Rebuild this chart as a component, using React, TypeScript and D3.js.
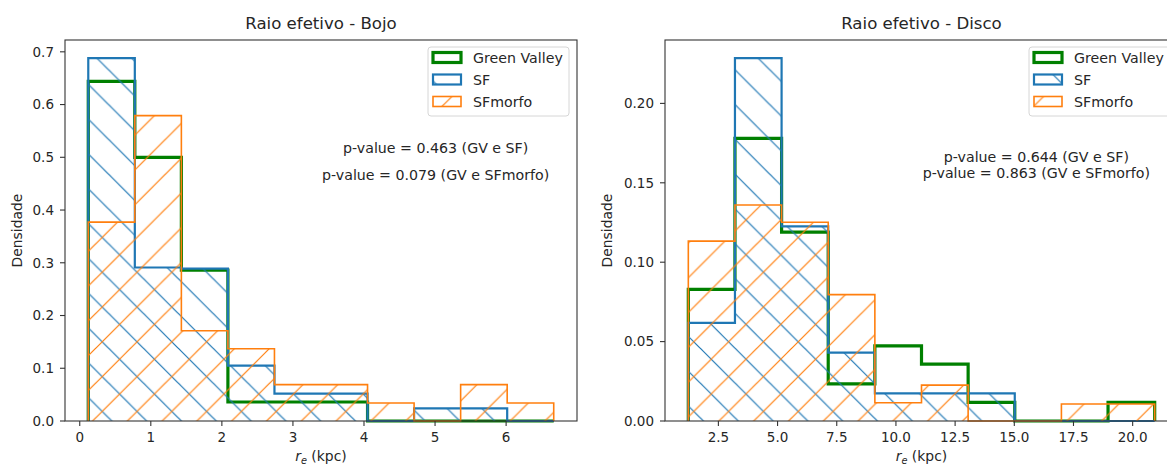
import React from 'react';
import * as d3 from 'd3';

const W = 1167;
const H = 468;

// ---- data (densities) ----
const seriesNames = ['Green Valley', 'SF', 'SFmorfo'];

const bojoEdges = [0.12, 0.775, 1.43, 2.085, 2.74, 3.395, 4.05, 4.705, 5.36, 6.015, 6.67];
const bojoGV = [0.644, 0.5, 0.286, 0.036, 0.036, 0.036, 0, 0, 0, 0];
const bojoSF = [0.688, 0.291, 0.289, 0.105, 0.052, 0.052, 0, 0.024, 0.024, 0];
const bojoSFmorfo = [0.377, 0.579, 0.171, 0.137, 0.069, 0.069, 0.034, 0, 0.069, 0.034];

const discoEdges = [1.23, 3.2, 5.17, 7.14, 9.11, 11.08, 13.05, 15.02, 16.99, 18.96, 20.93];
const discoGV = [0.0829, 0.178, 0.119, 0.0234, 0.0473, 0.0358, 0.0117, 0, 0, 0.0117];
const discoSF = [0.0618, 0.2285, 0.1225, 0.0431, 0.0174, 0.0174, 0.0174, 0, 0, 0];
const discoSFmorfo = [0.1133, 0.136, 0.1252, 0.0796, 0.0115, 0.0226, 0, 0, 0.0107, 0.0107];

const bojoXTicks = [0, 1, 2, 3, 4, 5, 6];
const bojoYTicks = [0, 0.1, 0.2, 0.3, 0.4, 0.5, 0.6, 0.7];
const discoXTicks = [2.5, 5.0, 7.5, 10.0, 12.5, 15.0, 17.5, 20.0];
const discoYTicks = [0, 0.05, 0.1, 0.15, 0.2];

const bojoPValues = ['p-value = 0.463 (GV e SF)', 'p-value = 0.079 (GV e SFmorfo)'];
const discoPValues = ['p-value = 0.644 (GV e SF)', 'p-value = 0.863 (GV e SFmorfo)'];

// ---- style ----
const FONT = 'DejaVu Sans, sans-serif';
const GREEN = '#008000';
const BLUE = '#1f77b4';
const ORANGE = '#ff7f0e';
const HATCH = 34.8;
const TEXT = '#262626';

const styles = [
  { color: GREEN, width: 3.2, hatch: null as string | null },
  { color: BLUE, width: 2.2, hatch: 'hatchBack' },
  { color: ORANGE, width: 1.6, hatch: 'hatchFwd' },
];

type PanelProps = {
  left: number;
  right: number;
  top: number;
  bottom: number;
  title: string;
  edges: number[];
  series: number[][];
  xTicks: number[];
  xFmt: (v: number) => string;
  yTicks: number[];
  yFmt: (v: number) => string;
  pvals: string[];
  pvalFx: number;
  pvalYs: number[];
  ylabelX: number;
};

function Panel(p: PanelProps) {
  const e0 = p.edges[0];
  const eN = p.edges[p.edges.length - 1];
  const pad = (eN - e0) * 0.05;
  const x = d3.scaleLinear().domain([e0 - pad, eN + pad]).range([p.left, p.right]);
  const ymax = d3.max(p.series.flat()) as number;
  const y = d3.scaleLinear().domain([0, ymax * 1.05]).range([p.bottom, p.top]);
  const line = d3.line<[number, number]>().x((d) => x(d[0])).y((d) => y(d[1]));

  const stepPts = (vals: number[]): [number, number][] => {
    const pts: [number, number][] = [[p.edges[0], 0]];
    vals.forEach((v, i) => {
      pts.push([p.edges[i], v]);
      pts.push([p.edges[i + 1], v]);
    });
    pts.push([eN, 0]);
    return pts;
  };

  const cx = (p.left + p.right) / 2;
  const legRight = p.right - 8;
  const legLeft = legRight - 141;
  const legTop = 47;
  const rowY = [57.5, 79.5, 101.5];

  return (
    <g fontFamily={FONT}>
      {p.series.map((vals, i) => {
        const pts = stepPts(vals);
        const d = line(pts) as string;
        const st = styles[i];
        return (
          <g key={i}>
            {st.hatch && <path d={d + 'Z'} fill={`url(#${st.hatch})`} stroke="none" />}
            <path d={d} fill="none" stroke={st.color} strokeWidth={st.width} strokeLinejoin="miter" />
          </g>
        );
      })}

      <rect x={p.left} y={p.top} width={p.right - p.left} height={p.bottom - p.top} fill="none" stroke="#333" strokeWidth={1.1} />

      {p.yTicks.map((t) => (
        <g key={'y' + t}>
          <line x1={p.left - 5} x2={p.left} y1={y(t)} y2={y(t)} stroke="#333" strokeWidth={1.1} />
          <text x={p.left - 11} y={y(t) + 4.8} textAnchor="end" fontSize={13.5} fill={TEXT}>
            {p.yFmt(t)}
          </text>
        </g>
      ))}
      {p.xTicks.map((t) => (
        <g key={'x' + t}>
          <line x1={x(t)} x2={x(t)} y1={p.bottom} y2={p.bottom + 5} stroke="#333" strokeWidth={1.1} />
          <text x={x(t)} y={p.bottom + 21} textAnchor="middle" fontSize={13.5} fill={TEXT}>
            {p.xFmt(t)}
          </text>
        </g>
      ))}

      <text x={cx} y={29.3} textAnchor="middle" fontSize={16.6} fill={TEXT}>
        {p.title}
      </text>

      <text x={cx} y={461} textAnchor="middle" fontSize={13.9} fill={TEXT}>
        <tspan fontStyle="italic">r</tspan>
        <tspan fontStyle="italic" fontSize={9.7} dy={3}>e</tspan>
        <tspan dy={-3}> (kpc)</tspan>
      </text>
      <text
        transform={`translate(${p.ylabelX},${(p.top + p.bottom) / 2}) rotate(-90)`}
        textAnchor="middle"
        fontSize={13.9}
        fill={TEXT}
      >
        Densidade
      </text>

      {p.pvals.map((s, i) => (
        <text key={s} x={p.left + p.pvalFx * (p.right - p.left)} y={p.pvalYs[i] + 5.1} textAnchor="middle" fontSize={14.2} fill={TEXT}>
          {s}
        </text>
      ))}

      <rect x={legLeft} y={legTop} width={141} height={69} rx={3} fill="white" fillOpacity={0.8} stroke="#d6d6d6" strokeWidth={1} />
      {seriesNames.map((name, i) => {
        const st = styles[i];
        const hx = legLeft + 5;
        const hy = rowY[i] - 5;
        return (
          <g key={name}>
            {st.hatch && <rect x={hx} y={hy} width={28} height={10} fill={`url(#${st.hatch})`} />}
            <rect x={hx} y={hy} width={28} height={10} fill="none" stroke={st.color} strokeWidth={st.width} />
            <text x={legLeft + 45} y={rowY[i] + 5.1} fontSize={14.2} fill={TEXT}>
              {name}
            </text>
          </g>
        );
      })}
    </g>
  );
}

export default function App() {
  const s = HATCH;
  return (
    <svg width={W} height={H} style={{ position: 'absolute', left: 0, top: 0 }} xmlns="http://www.w3.org/2000/svg">
      <defs>
        <pattern id="hatchBack" patternUnits="userSpaceOnUse" x={4} y={0} width={s} height={s}>
          <g stroke={BLUE} strokeWidth={1.2}>
            <line x1={-2} y1={-2} x2={s + 2} y2={s + 2} />
            <line x1={s - 3} y1={-3} x2={s + 3} y2={3} />
            <line x1={-3} y1={s - 3} x2={3} y2={s + 3} />
          </g>
        </pattern>
        <pattern id="hatchFwd" patternUnits="userSpaceOnUse" x={26.4} y={0} width={s} height={s}>
          <g stroke={ORANGE} strokeWidth={1.2}>
            <line x1={-2} y1={s + 2} x2={s + 2} y2={-2} />
            <line x1={-3} y1={3} x2={3} y2={-3} />
            <line x1={s - 3} y1={s + 3} x2={s + 3} y2={s - 3} />
          </g>
        </pattern>
      </defs>
      <rect x={0} y={0} width={W} height={H} fill="white" />
      <Panel
        left={65}
        right={577}
        top={40}
        bottom={421}
        title="Raio efetivo - Bojo"
        edges={bojoEdges}
        series={[bojoGV, bojoSF, bojoSFmorfo]}
        xTicks={bojoXTicks}
        xFmt={d3.format('d')}
        yTicks={bojoYTicks}
        yFmt={d3.format('.1f')}
        pvals={bojoPValues}
        pvalFx={0.724}
        pvalYs={[148, 175]}
        ylabelX={22}
      />
      <Panel
        left={665}
        right={1178}
        top={40}
        bottom={421}
        title="Raio efetivo - Disco"
        edges={discoEdges}
        series={[discoGV, discoSF, discoSFmorfo]}
        xTicks={discoXTicks}
        xFmt={d3.format('.1f')}
        yTicks={discoYTicks}
        yFmt={d3.format('.2f')}
        pvals={discoPValues}
        pvalFx={0.724}
        pvalYs={[156.7, 173.3]}
        ylabelX={612}
      />
    </svg>
  );
}
